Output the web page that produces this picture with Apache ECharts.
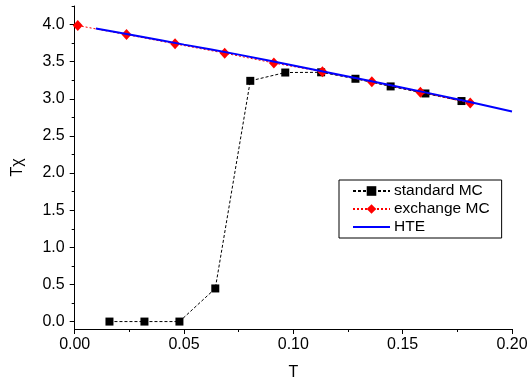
<!DOCTYPE html>
<html><head><meta charset="utf-8">
<script src="https://cdn.jsdelivr.net/npm/echarts@6/dist/echarts.min.js"></script>
<style>html,body{margin:0;padding:0;background:#fff}#c{width:528px;height:381px}</style>
</head><body><div id="c"></div><script>
// Data
const standardT = [0.0159, 0.0319, 0.0479, 0.0643, 0.0803, 0.0963, 0.1127, 0.1284, 0.1445, 0.1604, 0.1769];
const standardV = [0, 0, 0, 0.446, 3.242, 3.354, 3.357, 3.27, 3.167, 3.072, 2.97];
const exchangeT = [0.0014, 0.0237, 0.0459, 0.0686, 0.0911, 0.1133, 0.1359, 0.1581, 0.1809];
const exchangeV = [3.987, 3.865, 3.74, 3.615, 3.482, 3.365, 3.23, 3.09, 2.942];
const hteT = [0.0097, 0.03, 0.05, 0.075, 0.1, 0.125, 0.15, 0.175, 0.2];
const hteV = [3.946, 3.84, 3.73, 3.595, 3.45, 3.30, 3.15, 2.995, 2.83];
const yMajorTicks = [0, 0.5, 1.0, 1.5, 2.0, 2.5, 3.0, 3.5, 4.0];
const yMinorTicks = [0.25, 0.75, 1.25, 1.75, 2.25, 2.75, 3.25, 3.75, 4.25];
const seriesNames = ['standard MC', 'exchange MC', 'HTE'];

const zip = (a, b) => a.map((v, i) => [v, b[i]]);
const FONT = 'Liberation Sans, Arial, sans-serif';
const chart = echarts.init(document.getElementById('c'), null, {renderer: 'canvas'});
chart.setOption({
  animation: false,
  backgroundColor: '#fff',
  textStyle: {fontFamily: FONT},
  grid: {left: 74.7, right: 16, top: 6, bottom: 52, containLabel: false, outerBoundsMode: 'none'},
  legend: {
    orient: 'vertical', left: 339, top: 180,
    data: [
      {name: seriesNames[0]},
      {name: seriesNames[1]},
      {name: seriesNames[2], icon: 'path://M0,0 H37 V2 H0 Z'}
    ],
    borderColor: '#000', borderWidth: 1, borderRadius: 0,
    padding: [3, 12, 3, 13],
    itemWidth: 37, itemHeight: 12, itemGap: 2,
    textStyle: {fontFamily: FONT, fontSize: 15.5, color: '#000', padding: [0, 0, 0, -1]}
  },
  xAxis: {
    type: 'value', min: 0, max: 0.2, interval: 0.05,
    name: 'T', nameLocation: 'middle', nameGap: 36,
    nameTextStyle: {fontFamily: FONT, fontSize: 16, color: '#000'},
    axisLine: {show: true, onZero: false, lineStyle: {color: '#000', width: 1}},
    axisTick: {show: true, inside: false, length: 5, lineStyle: {color: '#000'}},
    minorTick: {show: true, splitNumber: 2, length: 3, lineStyle: {color: '#000'}},
    axisLabel: {margin: 8, fontFamily: FONT, fontSize: 16, color: '#000', formatter: v => v.toFixed(2)},
    splitLine: {show: false}, minorSplitLine: {show: false}
  },
  yAxis: [{
    type: 'value', min: -0.1, max: 4.25,
    name: 'T\u03c7', nameLocation: 'middle', nameGap: 49,
    nameTextStyle: {fontFamily: FONT, fontSize: 16, color: '#000'},
    axisLine: {show: true, onZero: false, lineStyle: {color: '#000', width: 1}},
    axisTick: {show: true, inside: false, length: 5, customValues: yMajorTicks, lineStyle: {color: '#000'}},
    axisLabel: {margin: 10, fontFamily: FONT, fontSize: 16, color: '#000', customValues: yMajorTicks, formatter: v => v.toFixed(1)},
    splitLine: {show: false}
  }, {
    type: 'value', min: -0.1, max: 4.25, position: 'left',
    axisLine: {show: false},
    axisTick: {show: true, inside: false, length: 3, customValues: yMinorTicks, lineStyle: {color: '#000'}},
    axisLabel: {show: false},
    splitLine: {show: false}
  }],
  series: [{
    name: seriesNames[0], type: 'line', data: zip(standardT, standardV),
    symbol: 'rect', symbolSize: 8, showAllSymbol: true,
    itemStyle: {color: '#000'},
    lineStyle: {color: '#000', width: 1, type: [3, 2]}, z: 2
  }, {
    name: seriesNames[1], type: 'line', data: zip(exchangeT, exchangeV),
    symbol: 'diamond', symbolSize: [10, 11], showAllSymbol: true,
    itemStyle: {color: '#ff0000'},
    lineStyle: {color: '#ff0000', width: 1, type: [2, 2]}, z: 3
  }, {
    name: seriesNames[2], type: 'line', data: zip(hteT, hteV),
    symbol: 'none', smooth: 0.3,
    itemStyle: {color: '#0000ff'},
    lineStyle: {color: '#0000ff', width: 2}, z: 4
  }]
});
</script></body></html>
